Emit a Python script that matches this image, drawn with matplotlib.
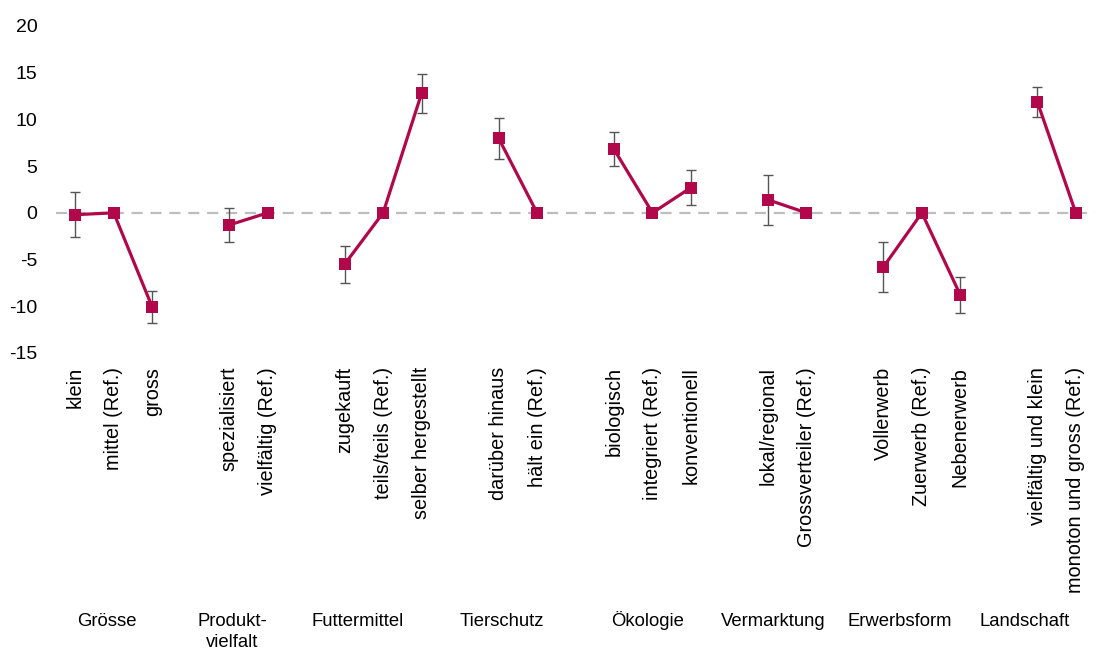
import matplotlib
matplotlib.use("Agg")
import matplotlib.pyplot as plt
import numpy as np

plt.rcParams['font.family'] = ['Liberation Sans', 'DejaVu Sans']
plt.rcParams['axes.unicode_minus'] = False

# Attribute groups and their levels
groups = ["Grösse", "Produkt-\nvielfalt", "Futtermittel", "Tierschutz",
          "Ökologie", "Vermarktung", "Erwerbsform", "Landschaft"]

levels = [
    ["klein", "mittel (Ref.)", "gross"],
    ["spezialisiert", "vielfältig (Ref.)"],
    ["zugekauft", "teils/teils (Ref.)", "selber hergestellt"],
    ["darüber hinaus", "hält ein (Ref.)"],
    ["biologisch", "integriert (Ref.)", "konventionell"],
    ["lokal/regional", "Grossverteiler (Ref.)"],
    ["Vollerwerb", "Zuerwerb (Ref.)", "Nebenerwerb"],
    ["vielfältig und klein", "monoton und gross (Ref.)"],
]

# Estimated effects per level
values = [
    [-0.2, 0.0, -10.1],
    [-1.3, 0.0],
    [-5.5, 0.0, 12.8],
    [8.0, 0.0],
    [6.8, 0.0, 2.7],
    [1.4, 0.0],
    [-5.8, 0.0, -8.8],
    [11.9, 0.0],
]

# Error bar half-widths (reference levels have none)
errors = [
    [2.4, 0.0, 1.7],
    [1.8, 0.0],
    [2.0, 0.0, 2.1],
    [2.2, 0.0],
    [1.8, 0.0, 1.9],
    [2.7, 0.0],
    [2.7, 0.0, 1.9],
    [1.6, 0.0],
]

line_color = "#B1084B"
err_color = "#555555"

fig = plt.figure(figsize=(11.1, 6.5), dpi=100)
ax = fig.add_axes([0.0505, 0.457, 0.936, 0.503])

ax.axhline(0, color="#BDBDBD", lw=1.6, linestyle=(0, (5, 3.5)), zorder=1)

pos = 0
tick_pos, tick_lab = [], []
for labs, vals, errs in zip(levels, values, errors):
    xs = np.arange(pos, pos + len(labs))
    vals = np.array(vals)
    errs = np.array(errs)
    mask = errs > 0
    ax.errorbar(xs[mask], vals[mask], yerr=errs[mask], fmt="none",
                ecolor=err_color, elinewidth=1.0, capsize=3.5, capthick=1.0,
                zorder=2)
    ax.plot(xs, vals, color=line_color, lw=2.3, marker="s", markersize=8.6,
            markeredgewidth=0, zorder=3)
    tick_pos.extend(xs)
    tick_lab.extend(labs)
    pos += len(labs) + 1

ax.set_xlim(-0.5, pos - 1.5)
ax.set_ylim(-15, 20)
ax.set_yticks(np.arange(-15, 21, 5))
ax.set_xticks(tick_pos)
ax.set_xticklabels(tick_lab, rotation=90, va="top", ha="center", fontsize=14.3)
ax.tick_params(axis="x", length=0, pad=10)
ax.tick_params(axis="y", length=0, pad=13.5, labelsize=14)
for s in ax.spines.values():
    s.set_visible(False)

# Group labels along the bottom
group_x = [0.83, 4.08, 7.35, 11.09, 14.86, 18.13, 21.43, 24.68]
base_y = 1 - 626 / 650
line_step = 21 / 650
for gx, name in zip(group_x, groups):
    xf = fig.transFigure.inverted().transform(ax.transData.transform((gx, 0)))[0]
    for i, part in enumerate(name.split("\n")):
        fig.text(xf, base_y - i * line_step, part, ha="center", va="baseline",
                 fontsize=13.3)

fig.savefig("out.png", dpi=100)
